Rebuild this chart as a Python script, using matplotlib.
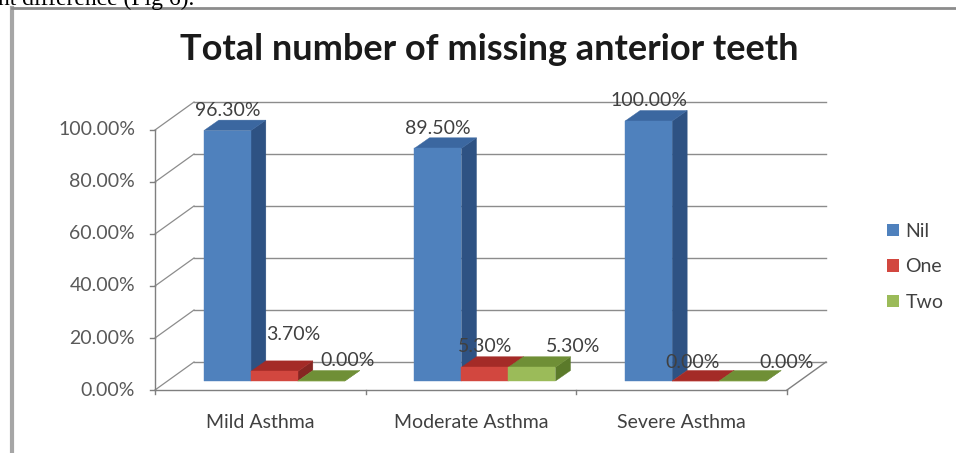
import matplotlib
matplotlib.use("Agg")
import matplotlib.pyplot as plt
from matplotlib.patches import Polygon, Rectangle, Patch
from matplotlib.lines import Line2D

# ---- data ----
categories = ["Mild Asthma", "Moderate Asthma", "Severe Asthma"]
series = ["Nil", "One", "Two"]
values = {
    "Nil": [96.30, 89.50, 100.00],
    "One": [3.70, 5.30, 0.00],
    "Two": [0.00, 5.30, 0.00],
}
y_ticks = [0, 20, 40, 60, 80, 100]
title = "Total number of missing anterior teeth"

# ---- styles ----
face_colors = {
    "Nil": ("#4F81BD", "#3B67A0", "#2E5283"),   # front, top, side
    "One": ("#D2473F", "#A42B27", "#862622"),
    "Two": ("#9BBB59", "#6F8F36", "#5B7A2A"),
}
FONT = ["Lato", "DejaVu Sans"]
LABEL_SIZE = 14

W, H = 956, 453
fig = plt.figure(figsize=(W / 100, H / 100), dpi=100)
fig.patch.set_facecolor("white")

# plot area: front plane, x in category units, y in percent
ax = fig.add_axes([155 / W, 1 - 390 / H, 632 / W, 260 / H])
ax.set_xlim(0, 3)
ax.set_ylim(0, 100)
ax.axis("off")

PX = 3 / 632      # one pixel in x data units
PY = 100 / 260    # one pixel in y data units

DX, DY = 39 * PX, 28 * PY          # depth of the walls
OX, OY = 14 * PX, 9 * PY           # bar front plane offset
BDX, BDY = 15 * PX, 10.5 * PY      # bar depth
BW = 47 * PX                       # bar width
GAP = (1 - 3 * BW) / 2

grid_c = "#8C8C8C"
axis_c = "#7F7F7F"

# back wall gridlines and left-wall diagonals
for v in y_ticks:
    ax.plot([DX, 3 + DX], [v + DY, v + DY], color=grid_c, lw=1.0, clip_on=False, zorder=1)
    ax.plot([0, DX], [v, v + DY], color=grid_c, lw=0.9, clip_on=False, zorder=1)
    ax.plot([-5 * PX, 0], [v, v], color=axis_c, lw=1.0, clip_on=False, zorder=1)
    ax.text(-20 * PX, v, f"{v:.2f}%", ha="right", va="center", fontsize=LABEL_SIZE,
            color="#595959", family=FONT, clip_on=False)

# floor and axes
ax.plot([0, 3], [0, 0], color=axis_c, lw=1.0, clip_on=False, zorder=1)
ax.plot([3, 3 + DX], [0, DY], color=axis_c, lw=1.0, clip_on=False, zorder=1)
ax.plot([0, 0], [0, 100], color=axis_c, lw=1.0, clip_on=False, zorder=1)
for i in range(4):
    ax.plot([i, i], [0, -4 * PY], color=axis_c, lw=1.0, clip_on=False, zorder=1)

# category labels
for i, cat in enumerate(categories):
    ax.text(i + 0.5, -32 * PY, cat, ha="center", va="center", fontsize=LABEL_SIZE,
            color="#404040", family=FONT, clip_on=False)

# label nudges (pixels) for each series / category
label_nudge = {
    "Nil": [(0, 20), (0, 20), (0, 20)],
    "One": [(19, 37), (0, 21), (-3, 19)],
    "Two": [(26, 21), (41, 21), (44, 19)],
}

z = 3
for i, cat in enumerate(categories):
    for j, s in enumerate(series):
        v = values[s][i]
        front, top, side = face_colors[s]
        x0 = i + GAP + j * BW + OX
        y0 = OY
        y1 = OY + v
        ax.add_patch(Polygon([(x0 + BW, y0), (x0 + BW + BDX, y0 + BDY),
                              (x0 + BW + BDX, y1 + BDY), (x0 + BW, y1)],
                             closed=True, facecolor=side, edgecolor=side, lw=0.3,
                             clip_on=False, zorder=z))
        ax.add_patch(Polygon([(x0, y1), (x0 + BW, y1), (x0 + BW + BDX, y1 + BDY),
                              (x0 + BDX, y1 + BDY)],
                             closed=True, facecolor=top, edgecolor=top, lw=0.3,
                             clip_on=False, zorder=z))
        ax.add_patch(Rectangle((x0, y0), BW, v, facecolor=front, edgecolor=front,
                               lw=0.3, clip_on=False, zorder=z))
        z += 1
        nx, ny = label_nudge[s][i]
        ax.text(x0 + BW / 2 + nx * PX, y1 + ny * PY, f"{v:.2f}%", ha="center",
                va="center", fontsize=LABEL_SIZE, color="#404040", family=FONT,
                clip_on=False, zorder=50)

# title
fig.text(489 / W, 1 - 49 / H, title, ha="center", va="center", fontsize=26,
         fontweight="bold", color="#1A1A1A", family=FONT)

# legend
handles = [Patch(facecolor=face_colors[s][0], edgecolor="none") for s in series]
fig.legend(handles, series, loc="center left", bbox_to_anchor=(887 / W, 1 - 267 / H),
           frameon=False, borderpad=0, borderaxespad=0,
           handlelength=0.6, handleheight=0.6, labelspacing=0.95,
           handletextpad=0.35, prop={"family": FONT, "size": LABEL_SIZE},
           labelcolor="#404040")

# chart frame
fig.add_artist(Line2D([12 / W, 12 / W], [0, 1 - 8 / H], transform=fig.transFigure,
                      color="#A6A6A6", lw=3))
fig.add_artist(Line2D([12 / W, 1], [1 - 8 / H, 1 - 8 / H], transform=fig.transFigure,
                      color="#8C8C8C", lw=2))

# running text of the page above the chart
fig.text(-2 / W, 1 - 5 / H, "nt difference (Fig 6).", ha="left", va="baseline",
         fontsize=17, family=["Liberation Serif", "DejaVu Serif"], color="black")

fig.savefig("out.png", dpi=100, facecolor="white")
